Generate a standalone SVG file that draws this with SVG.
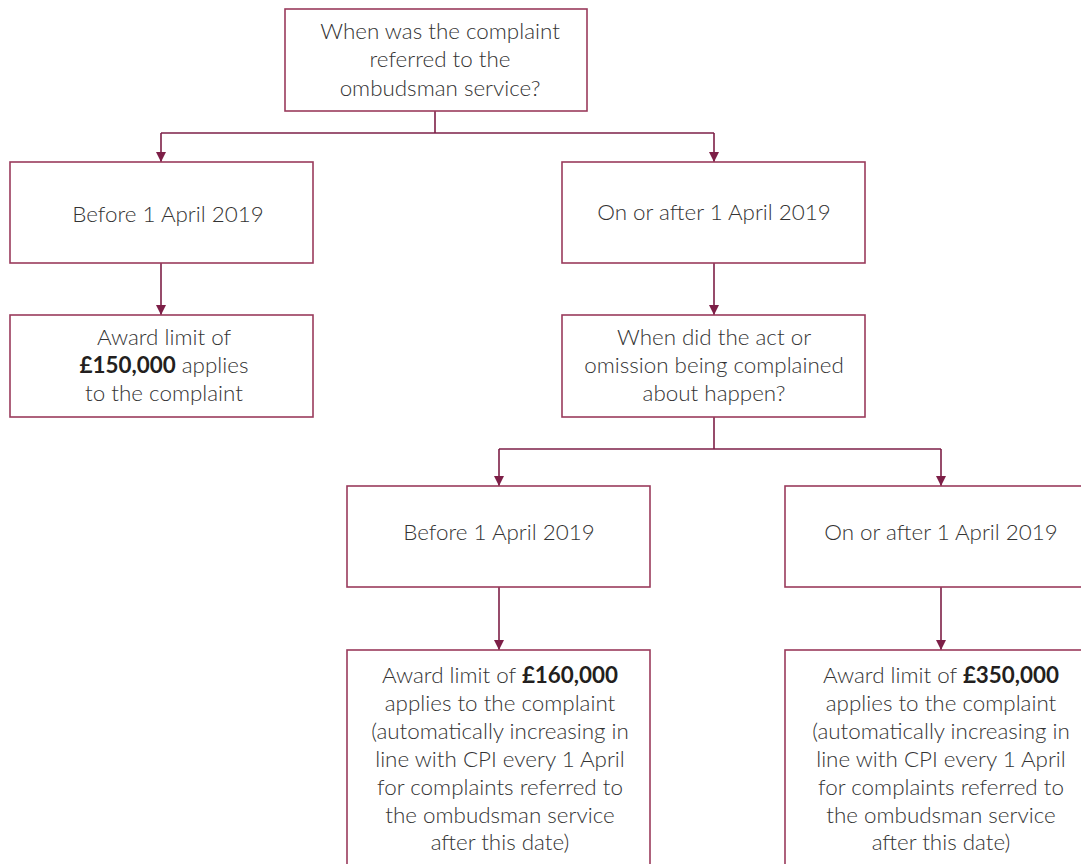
<svg xmlns="http://www.w3.org/2000/svg" width="1081" height="864" viewBox="0 0 1081 864">
<style>
.box{fill:#fff;stroke:#9a3b5c;stroke-width:1.6}
.t{font-family:Lato,"Open Sans","Liberation Sans",sans-serif;font-weight:300;font-size:22.4px;fill:#333;text-anchor:middle}
.b{font-weight:700;fill:#231f20}
.c{fill:none;stroke:#7d1f47;stroke-width:1.6}
</style>
<defs>
<marker id="ah" viewBox="0 0 10 10" refX="10" refY="5" markerWidth="10" markerHeight="10" markerUnits="userSpaceOnUse" orient="auto">
<path d="M0,0 L10,5 L0,10 z" fill="#7d1f47"/>
</marker>
</defs>
<rect width="1081" height="864" fill="#fff"/>
<g id="connectors">
<path class="c" d="M435,111 V133"/>
<path class="c" d="M161,133 H714"/>
<path class="c" d="M161,133 V162" marker-end="url(#ah)"/>
<path class="c" d="M714,133 V162" marker-end="url(#ah)"/>
<path class="c" d="M161,263 V315" marker-end="url(#ah)"/>
<path class="c" d="M714,263 V315" marker-end="url(#ah)"/>
<path class="c" d="M714,417 V449"/>
<path class="c" d="M499,449 H941"/>
<path class="c" d="M499,449 V486" marker-end="url(#ah)"/>
<path class="c" d="M941,449 V486" marker-end="url(#ah)"/>
<path class="c" d="M499,587 V650" marker-end="url(#ah)"/>
<path class="c" d="M941,587 V650" marker-end="url(#ah)"/>
</g>
<g id="q1">
<rect class="box" x="285" y="9" width="302" height="102"/>
<text class="t" x="440" y="39">When was the complaint</text>
<text class="t" x="440" y="67">referred to the</text>
<text class="t" x="440" y="96">ombudsman service?</text>
</g>
<g id="before1">
<rect class="box" x="10" y="162" width="303" height="101"/>
<text class="t" x="168" y="222">Before 1 April 2019</text>
</g>
<g id="after1">
<rect class="box" x="562" y="162" width="303" height="101"/>
<text class="t" x="714" y="220">On or after 1 April 2019</text>
</g>
<g id="limit150">
<rect class="box" x="10" y="315" width="303" height="102"/>
<text class="t" x="164" y="345">Award limit of</text>
<text class="t" x="164" y="373"><tspan class="b">£150,000</tspan> applies</text>
<text class="t" x="164" y="401">to the complaint</text>
</g>
<g id="q2">
<rect class="box" x="562" y="315" width="303" height="102"/>
<text class="t" x="714" y="345">When did the act or</text>
<text class="t" x="714" y="373">omission being complained</text>
<text class="t" x="714" y="401">about happen?</text>
</g>
<g id="before2">
<rect class="box" x="347" y="486" width="303" height="101"/>
<text class="t" x="499" y="540">Before 1 April 2019</text>
</g>
<g id="after2">
<rect class="box" x="785" y="486" width="310" height="101"/>
<text class="t" x="941" y="540">On or after 1 April 2019</text>
</g>
<g id="limit160">
<rect class="box" x="347" y="650" width="303" height="230"/>
<text class="t" x="500" y="683">Award limit of <tspan class="b">£160,000</tspan></text>
<text class="t" x="500" y="711">applies to the complaint</text>
<text class="t" x="500" y="739">(automatically increasing in</text>
<text class="t" x="500" y="767">line with CPI every 1 April</text>
<text class="t" x="500" y="795">for complaints referred to</text>
<text class="t" x="500" y="823">the ombudsman service</text>
<text class="t" x="500" y="850">after this date)</text>
</g>
<g id="limit350">
<rect class="box" x="785" y="650" width="310" height="230"/>
<text class="t" x="941" y="683">Award limit of <tspan class="b">£350,000</tspan></text>
<text class="t" x="941" y="711">applies to the complaint</text>
<text class="t" x="941" y="739">(automatically increasing in</text>
<text class="t" x="941" y="767">line with CPI every 1 April</text>
<text class="t" x="941" y="795">for complaints referred to</text>
<text class="t" x="941" y="823">the ombudsman service</text>
<text class="t" x="941" y="850">after this date)</text>
</g>
</svg>
